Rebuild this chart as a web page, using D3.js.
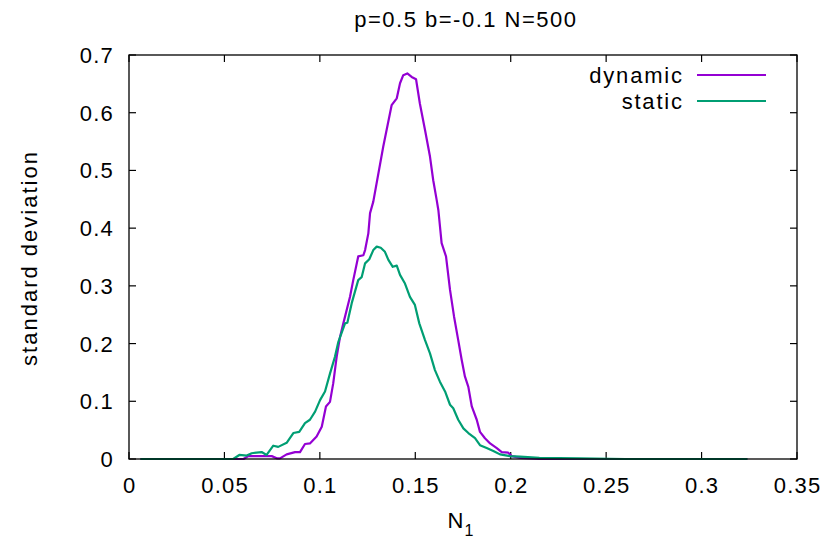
<!DOCTYPE html>
<html>
<head>
<meta charset="utf-8">
<script src="https://cdn.jsdelivr.net/npm/d3@7"></script>
<style>
  body { margin: 0; background: #fff; }
  text { font-family: "Liberation Sans", Arial, sans-serif; fill: #000; }
</style>
</head>
<body>
<div id="chart"></div>
<script>
const title      = 'p=0.5 b=-0.1 N=500';
const yLabel     = 'standard deviation';
const seriesNames  = ['dynamic', 'static'];
const seriesColors = ['#9400d3', '#009e73'];

const xTicks = [0, 0.05, 0.1, 0.15, 0.2, 0.25, 0.3, 0.35];
const yTicks = [0, 0.1, 0.2, 0.3, 0.4, 0.5, 0.6, 0.7];

// dynamic
const dynamicN1 = [0.006, 0.060, 0.0625, 0.0748, 0.0777, 0.0791, 0.0826, 0.0870, 0.0896, 0.0922,
  0.0948, 0.0983, 0.1010, 0.1032, 0.1053, 0.1070, 0.1088, 0.1106, 0.1123, 0.1158,
  0.1175, 0.1201, 0.1228, 0.1237, 0.1254, 0.1263, 0.1280, 0.1332, 0.1376, 0.1403,
  0.1420, 0.1437, 0.1458, 0.1481, 0.1504, 0.1524, 0.1551, 0.1577, 0.1594, 0.1612,
  0.1621, 0.1638, 0.1661, 0.1682, 0.1703, 0.1725, 0.1743, 0.1760, 0.1778, 0.1796,
  0.1822, 0.1839, 0.1865, 0.1892, 0.1927, 0.1953, 0.1987, 0.2005, 0.2050, 0.2150, 0.324];
const dynamicSD = [0, 0, 0.005, 0.005, 0.001, 0.001, 0.008, 0.012, 0.012, 0.026,
  0.027, 0.039, 0.056, 0.091, 0.099, 0.131, 0.177, 0.212, 0.235, 0.281,
  0.310, 0.351, 0.353, 0.362, 0.391, 0.426, 0.446, 0.541, 0.613, 0.625,
  0.651, 0.665, 0.668, 0.662, 0.658, 0.616, 0.570, 0.524, 0.483, 0.449,
  0.431, 0.374, 0.351, 0.293, 0.247, 0.206, 0.172, 0.143, 0.125, 0.091,
  0.068, 0.047, 0.036, 0.027, 0.019, 0.012, 0.011, 0.005, 0.002, 0, 0];

// static
const staticN1 = [0.006, 0.0546, 0.0578, 0.0617, 0.0643, 0.0695, 0.0721, 0.0756, 0.0782, 0.0826,
  0.0861, 0.0892, 0.0922, 0.0948, 0.0975, 0.1001, 0.1027, 0.1053, 0.1079, 0.1097,
  0.1132, 0.1144, 0.1167, 0.1201, 0.1219, 0.1237, 0.1259, 0.1280, 0.1298, 0.1319,
  0.1341, 0.1359, 0.1382, 0.1403, 0.1420, 0.1446, 0.1472, 0.1498, 0.1521, 0.1551,
  0.1577, 0.1603, 0.1629, 0.1656, 0.1682, 0.1699, 0.1725, 0.1752, 0.1778, 0.1813,
  0.1839, 0.1874, 0.1909, 0.1944, 0.1996, 0.2049, 0.2150, 0.2360, 0.2600, 0.324];
const staticSD = [0, 0, 0.007, 0.006, 0.010, 0.012, 0.007, 0.023, 0.021, 0.028,
  0.045, 0.047, 0.062, 0.068, 0.082, 0.102, 0.117, 0.148, 0.177, 0.203,
  0.235, 0.236, 0.270, 0.310, 0.315, 0.339, 0.346, 0.362, 0.368, 0.366,
  0.359, 0.345, 0.333, 0.335, 0.319, 0.304, 0.281, 0.267, 0.235, 0.206,
  0.183, 0.154, 0.134, 0.117, 0.094, 0.088, 0.068, 0.053, 0.045, 0.036,
  0.024, 0.019, 0.014, 0.008, 0.005, 0.004, 0.002, 0.001, 0, 0];

const widthContainer  = 831;
const heightContainer = 541;
const margin   = {top: 55, right: 34, bottom: 82, left: 129};
const tickSize = 7;
const fontSize = 22;
const spacing  = 1.8;   // gnuplot's text comes out a bit spread

let svg = d3.select('#chart')
  .append('svg')
  .attr('width',  widthContainer)
  .attr('height', heightContainer);

let xScale = d3.scaleLinear()
  .domain([0, 0.35])
  .range([margin.left, widthContainer - margin.right]);

let yScale = d3.scaleLinear()
  .domain([0, 0.7])
  .range([heightContainer - margin.bottom, margin.top]);

const x0 = xScale.range()[0], x1 = xScale.range()[1];
const y0 = yScale.range()[0], y1 = yScale.range()[1];

// ticks on all four sides, pointing inward
let tickLayer = svg.append('g').attr('stroke', '#000').attr('stroke-width', 1.2);
xTicks.forEach(t => {
  tickLayer.append('line').attr('x1', xScale(t)).attr('x2', xScale(t)).attr('y1', y0).attr('y2', y0 - tickSize);
  tickLayer.append('line').attr('x1', xScale(t)).attr('x2', xScale(t)).attr('y1', y1).attr('y2', y1 + tickSize);
});
yTicks.forEach(t => {
  tickLayer.append('line').attr('y1', yScale(t)).attr('y2', yScale(t)).attr('x1', x0).attr('x2', x0 + tickSize);
  tickLayer.append('line').attr('y1', yScale(t)).attr('y2', yScale(t)).attr('x1', x1).attr('x2', x1 - tickSize);
});

// tick labels
svg.append('g').selectAll('text')
  .data(xTicks)
  .enter()
  .append('text')
    .attr('x', d => xScale(d) + 0.6)
    .attr('y', y0 + 34)
    .attr('text-anchor', 'middle')
    .style('font-size', fontSize + 'px')
    .style('letter-spacing', '1.2px')
    .text(d => d3.format('')(d));

svg.append('g').selectAll('text')
  .data(yTicks)
  .enter()
  .append('text')
    .attr('x', x0 - 15)
    .attr('y', d => yScale(d) + 8)
    .attr('text-anchor', 'end')
    .style('font-size', fontSize + 'px')
    .style('letter-spacing', '1.2px')
    .text(d => d3.format('')(d));

// curves
const series = [
  {name: seriesNames[0], color: seriesColors[0], points: dynamicN1.map((n, i) => [n, dynamicSD[i]])},
  {name: seriesNames[1], color: seriesColors[1], points: staticN1.map((n, i) => [n, staticSD[i]])}
];

let line = d3.line()
  .x(d => xScale(d[0]))
  .y(d => yScale(d[1]));

svg.append('g').selectAll('path')
  .data(series)
  .enter()
  .append('path')
    .attr('d', d => line(d.points))
    .attr('fill', 'none')
    .attr('stroke', d => d.color)
    .attr('stroke-width', 2.2)
    .attr('stroke-linejoin', 'round');

// border
svg.append('rect')
  .attr('x', x0)
  .attr('y', y1)
  .attr('width',  x1 - x0)
  .attr('height', y0 - y1)
  .attr('fill', 'none')
  .attr('stroke', '#000')
  .attr('stroke-width', 1.3);

// legend
let legend = svg.append('g').selectAll('g')
  .data(series)
  .enter()
  .append('g')
    .attr('transform', (d, i) => `translate(0, ${75 + i * 26})`);

legend.append('text')
  .attr('x', 682 + spacing)
  .attr('y', 8)
  .attr('text-anchor', 'end')
  .style('font-size', fontSize + 'px')
  .style('letter-spacing', spacing + 'px')
  .text(d => d.name);

legend.append('line')
  .attr('x1', 697)
  .attr('x2', 766)
  .attr('stroke', d => d.color)
  .attr('stroke-width', 2.2);

// title
svg.append('text')
  .attr('x', 465 + spacing / 2)
  .attr('y', 27)
  .attr('text-anchor', 'middle')
  .style('font-size', fontSize + 'px')
  .style('letter-spacing', '1.5px')
  .text(title);

// y-axis label
svg.append('text')
  .attr('transform', `translate(37, ${(y0 + y1) / 2 + 1}) rotate(-90)`)
  .attr('text-anchor', 'middle')
  .style('font-size', fontSize + 'px')
  .style('letter-spacing', '2px')
  .text(yLabel);

// x-axis label N1
let xLab = svg.append('text')
  .attr('x', 461)
  .attr('y', 528)
  .attr('text-anchor', 'middle')
  .style('font-size', fontSize + 'px')
  .style('letter-spacing', '1px');
xLab.append('tspan').text('N');
xLab.append('tspan').attr('dy', 8).style('font-size', '16px').text('1');
</script>
</body>
</html>
